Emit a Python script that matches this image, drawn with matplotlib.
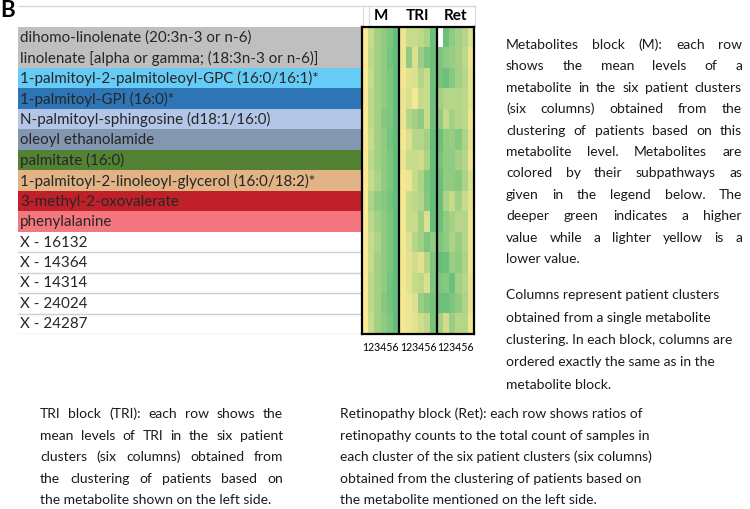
"""
Metabolite cluster heatmap panel (B) with explanatory notes
"""
import numpy as np
import matplotlib.pyplot as plt
from matplotlib.colors import LinearSegmentedColormap

plt.rcParams['font.family'] = ['Lato', 'DejaVu Sans']

# Row labels and their subpathway colours
metabolites = [
    'dihomo-linolenate (20:3n-3 or n-6)',
    'linolenate [alpha or gamma; (18:3n-3 or n-6)]',
    '1-palmitoyl-2-palmitoleoyl-GPC (16:0/16:1)*',
    '1-palmitoyl-GPI (16:0)*',
    'N-palmitoyl-sphingosine (d18:1/16:0)',
    'oleoyl ethanolamide',
    'palmitate (16:0)',
    '1-palmitoyl-2-linoleoyl-glycerol (16:0/18:2)*',
    '3-methyl-2-oxovalerate',
    'phenylalanine',
    'X - 16132',
    'X - 14364',
    'X - 14314',
    'X - 24024',
    'X - 24287',
]
row_colors = ['#BFBFBF', '#BFBFBF', '#66CCF5', '#2E75B6', '#B4C6E7',
              '#8497B0', '#548235', '#E2B384', '#C0202A', '#F4777F',
              'white', 'white', 'white', 'white', 'white']

block_names = ['M', 'TRI', 'Ret']
cluster_ticks = ['1', '2', '3', '4', '5', '6']

# scaled values (0 = yellow, 1 = green)
m_block = [
    [0.02, 0.30, 0.50, 0.60, 0.70, 0.85],
    [0.02, 0.35, 0.50, 0.60, 0.75, 0.85],
    [0.02, 0.30, 0.50, 0.60, 0.70, 0.85],
    [0.02, 0.35, 0.50, 0.60, 0.70, 0.85],
    [0.02, 0.35, 0.50, 0.65, 0.70, 0.90],
    [0.02, 0.30, 0.50, 0.60, 0.75, 0.85],
    [0.02, 0.35, 0.50, 0.60, 0.70, 0.85],
    [0.02, 0.30, 0.45, 0.60, 0.70, 0.85],
    [0.02, 0.45, 0.60, 0.65, 0.75, 0.90],
    [0.02, 0.35, 0.50, 0.60, 0.70, 0.85],
    [0.02, 0.30, 0.45, 0.60, 0.70, 0.85],
    [0.02, 0.30, 0.50, 0.60, 0.70, 0.85],
    [0.02, 0.35, 0.50, 0.60, 0.75, 0.85],
    [0.02, 0.35, 0.50, 0.65, 0.75, 0.90],
    [0.02, 0.30, 0.50, 0.60, 0.70, 0.85],
]
tri_block = [
    [0.10, 0.30, 0.30, 0.35, 0.45, 0.80],
    [0.10, 0.60, 0.20, 0.55, 0.70, 0.80],
    [0.05, 0.15, 0.20, 0.40, 0.30, 0.80],
    [0.10, 0.20, 0.05, 0.30, 0.30, 0.80],
    [0.10, 0.40, 0.50, 0.60, 0.30, 0.80],
    [0.05, 0.20, 0.40, 0.40, 0.50, 0.85],
    [0.10, 0.30, 0.30, 0.25, 0.45, 0.85],
    [0.05, 0.10, 0.30, 0.45, 0.70, 0.85],
    [0.05, 0.30, 0.35, 0.40, 0.65, 0.85],
    [0.05, 0.30, 0.30, 0.50, 0.20, 0.85],
    [0.05, 0.20, 0.40, 0.50, 0.70, 0.60],
    [0.05, 0.15, 0.25, 0.15, 0.40, 0.70],
    [0.05, 0.15, 0.30, 0.35, 0.20, 0.70],
    [0.05, 0.10, 0.20, 0.55, 0.65, 0.75],
    [0.05, 0.10, 0.15, 0.25, 0.35, 0.75],
]
ret_block = [
    [np.nan, 0.80, 0.60, 0.50, 0.40, 0.20],
    [0.70, 0.60, 0.55, 0.50, 0.35, 0.10],
    [0.75, 0.80, 0.65, 0.50, 0.40, 0.15],
    [0.50, 0.40, 0.40, 0.40, 0.35, 0.15],
    [0.60, 0.30, 0.50, 0.40, 0.35, 0.10],
    [0.80, 0.60, 0.55, 0.65, 0.45, 0.15],
    [0.75, 0.60, 0.60, 0.50, 0.40, 0.10],
    [0.80, 0.60, 0.60, 0.65, 0.45, 0.20],
    [0.80, 0.45, 0.30, 0.50, 0.30, 0.15],
    [0.80, 0.60, 0.50, 0.40, 0.40, 0.10],
    [0.70, 0.60, 0.45, 0.55, 0.40, 0.10],
    [0.85, 0.80, 0.55, 0.60, 0.45, 0.10],
    [0.70, 0.65, 0.80, 0.50, 0.40, 0.15],
    [0.80, 0.80, 0.70, 0.60, 0.45, 0.15],
    [0.50, 0.25, 0.55, 0.40, 0.40, 0.10],
]

note_m = ['Metabolites block (M): each row',
          'shows the mean levels of a',
          'metabolite in the six patient clusters',
          '(six columns) obtained from the',
          'clustering of patients based on this',
          'metabolite level. Metabolites are',
          'colored by their subpathways as',
          'given in the legend below. The',
          'deeper green indicates a higher',
          'value while a lighter yellow is a',
          'lower value.']
note_cols = ['Columns represent patient clusters',
             'obtained from a single metabolite',
             'clustering. In each block, columns are',
             'ordered exactly the same as in the',
             'metabolite block.']
note_tri = ['TRI block (TRI): each row shows the',
            'mean levels of TRI in the six patient',
            'clusters (six columns) obtained from',
            'the clustering of patients based on',
            'the metabolite shown on the left side.']
note_ret = ['Retinopathy block (Ret): each row shows ratios of',
            'retinopathy counts to the total count of samples in',
            'each cluster of the six patient clusters (six columns)',
            'obtained from the clustering of patients based on',
            'the metabolite mentioned on the left side.']

W, H = 750, 509
fig = plt.figure(figsize=(7.5, 5.09), dpi=100)


def box(x0, y0, x1, y1):
    # pixel box (top-left origin) -> figure fraction rect
    return [x0 / W, 1 - y1 / H, (x1 - x0) / W, (y1 - y0) / H]


# overlay in pixel coords for free text
bg = fig.add_axes([0, 0, 1, 1])
bg.set_xlim(0, W)
bg.set_ylim(H, 0)
bg.axis('off')

bg.text(0, 17, 'B', fontsize=16, fontweight='bold', va='baseline')

# header gridlines
bg.plot([18, 475], [6, 6], color='#D9D9D9', lw=1)
for gx in [363, 369, 475]:
    bg.plot([gx, gx], [6, 27], color='#D9D9D9', lw=0.8)

# label rows
n = len(metabolites)
lab = fig.add_axes(box(18, 27, 362, 334))
lab.barh(range(n), 1, height=1, left=0, color=row_colors, edgecolor='none')
lab.set_xlim(0, 1)
lab.set_ylim(n - 0.5, -0.5)
for i, name in enumerate(metabolites):
    lab.text(0.006, i + 0.03, name, va='center', ha='left', fontsize=10.9,
             color='#262626')
    if row_colors[i] == 'white':
        lab.axhline(i + 0.5, color='#D0D0D0', lw=1)
lab.axis('off')

# heatmap
cmap = LinearSegmentedColormap.from_list('yg', ['#FFEB94', '#63BE7B'])
cmap.set_bad('white')
data = np.hstack([np.array(m_block), np.array(tri_block), np.array(ret_block)])
hm = fig.add_axes(box(362, 27, 474, 334))
hm.imshow(np.ma.masked_invalid(data), cmap=cmap, vmin=0, vmax=0.85,
          aspect='auto', interpolation='nearest')
for b in [5.5, 11.5]:
    hm.axvline(b, color='black', lw=1.6)
for s in hm.spines.values():
    s.set_linewidth(1.6)
# one "123456" label centred under each block
hm.set_xticks([6 * k + 2.5 for k in range(3)])
hm.set_xticklabels([''.join(cluster_ticks)] * 3, fontsize=7.6)
hm.tick_params(length=0, pad=6)
hm.set_yticks([])
for k, name in enumerate(block_names):
    hm.annotate(name, xy=(6 * k + 2.5, -0.5), xytext=(0, 8),
                textcoords='offset points', ha='center', va='center',
                fontsize=11, fontweight='bold', annotation_clip=False)

renderer = fig.canvas.get_renderer()


def para(lines, x0, x1, y0, dy, justify=True, size=10):
    for k, line in enumerate(lines):
        y = y0 + k * dy
        words = line.split()
        if not justify or k == len(lines) - 1 or len(words) == 1:
            bg.text(x0, y, line, fontsize=size, va='baseline', ha='left',
                    color='#1A1A1A')
            continue
        objs = [bg.text(0, y, w, fontsize=size, va='baseline', ha='left',
                        color='#1A1A1A') for w in words]
        widths = [t.get_window_extent(renderer).width for t in objs]
        gap = (x1 - x0 - sum(widths)) / (len(words) - 1)
        x = x0
        for t, w in zip(objs, widths):
            t.set_x(x)
            x += w + gap


para(note_m, 506, 742, 49, 21.4, size=10)
para(note_cols, 506, 742, 299, 22.5, justify=False, size=10)
para(note_tri, 40, 283, 418, 21.6, size=10)
para(note_ret, 340, 680, 418, 21.6, justify=False, size=10)

plt.savefig('out.png', dpi=100, facecolor='white')
plt.close()
